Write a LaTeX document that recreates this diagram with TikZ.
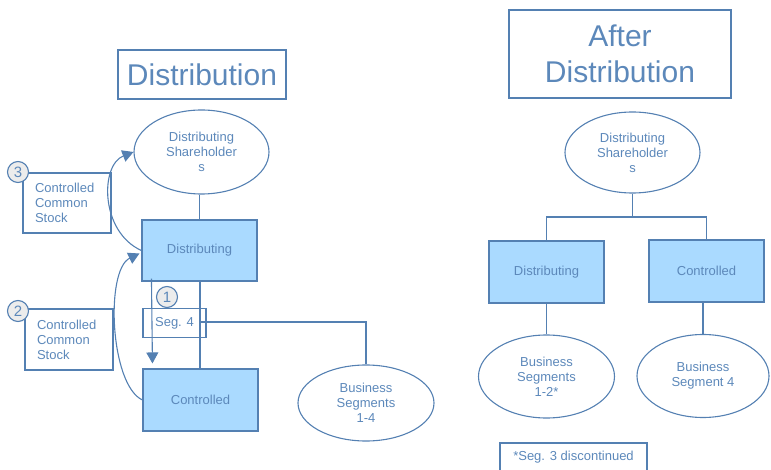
\documentclass[tikz,border=0pt]{standalone}
\usepackage{fontspec}
\setmainfont{Liberation Sans}
\usetikzlibrary{arrows.meta,calc,shapes.geometric}
\definecolor{ln}{RGB}{84,128,178}
\definecolor{tx}{RGB}{92,136,186}
\definecolor{bx}{RGB}{170,218,255}
\definecolor{cc}{RGB}{236,236,236}
\tikzset{
  base/.style={draw=ln, line width=1.1pt, text=tx, font=\fontsize{13}{15}\selectfont, inner sep=0pt, align=center},
  bluebox/.style={base, fill=bx, minimum width=115, minimum height=61},
  ell/.style={base, ellipse, minimum width=134, minimum height=82},
  titlebox/.style={base, font=\fontsize{30}{36}\selectfont},
  stockbox/.style={base, align=left, text width=64, inner xsep=12, minimum height=60},
  numc/.style={base, circle, fill=cc, minimum size=21, font=\fontsize{15}{15}\selectfont},
  conn/.style={draw=ln, line width=1.1pt},
  arr/.style={conn, -{Triangle[length=11pt,width=12pt]}}
}
\begin{document}
\begin{tikzpicture}[x=1pt,y=-1pt]
\useasboundingbox (0,0) rectangle (771,470);
\clip (0,0) rectangle (771,470);
% ---------- left: Distribution ----------
\node[titlebox, minimum width=168, minimum height=49] (t1) at (202,74.5) {Distribution};
\node[ell, minimum width=135, minimum height=84] (sh1) at (201.5,152) {Distributing\\Shareholder\\s};
\node[bluebox] (d1) at (199.5,250.5) {Distributing};
\node[bluebox, minimum height=62] (c1) at (200.5,400) {Controlled};
\node[base, minimum width=63, minimum height=29] (seg) at (174.5,323) {Seg. 4};
\node[ell, minimum width=136, minimum height=76] (bs1) at (366,403) {Business\\Segments\\1-4};
\node[stockbox] (s3) at (67,203) {Controlled\\Common\\Stock};
\node[stockbox, minimum height=61] (s2) at (69,339.5) {Controlled\\Common\\Stock};
\coordinate (j1) at (200,322);
\draw[conn] (d1.north) -- (d1.north |- sh1.south);
\draw[conn] (d1.south -| j1) -- (c1.north -| j1);
\draw[conn] (j1) -| (bs1.north);
\draw[arr] ($(d1.south west)+(10,-3)$) -- ($(c1.north west)+(10,-5)$);
\draw[arr] (d1.west) .. controls (100,232) and (100,165) .. (sh1.west);
\draw[arr] (c1.west) .. controls (110,385) and (105,270) .. ($(d1.west)+(-2,3)$);
\node[numc] (n3) at (18,172) {3};
\node[numc] (n2) at (18,311) {2};
\node[numc] (n1) at (167,297) {1};
% ---------- right: After Distribution ----------
\node[titlebox, minimum width=222, minimum height=88] (t2) at (620,54) {After\\Distribution};
\node[ell, minimum width=135, minimum height=81] (sh2) at (632.5,152.5) {Distributing\\Shareholder\\s};
\node[bluebox, minimum height=62] (d2) at (546.5,272) {Distributing};
\node[bluebox, minimum height=62] (c2) at (706.5,271) {Controlled};
\node[ell, minimum width=136, minimum height=83] (bs2) at (546.5,376.5) {Business\\Segments\\1-2*};
\node[ell, minimum width=132, minimum height=83] (bs4) at (703,376) {Business\\Segment 4};
\node[base, minimum width=147, minimum height=28] (fn) at (573.5,457) {*Seg. 3 discontinued};
\coordinate (j2) at (632.5,217);
\draw[conn] (sh2.south) -- (j2);
\draw[conn] (d2.north) |- (j2) -| (c2.north);
\draw[conn] (d2.south) -- (bs2.north);
\draw[conn] (bs4.north) -- (bs4.north |- c2.south);
\end{tikzpicture}
\end{document}
